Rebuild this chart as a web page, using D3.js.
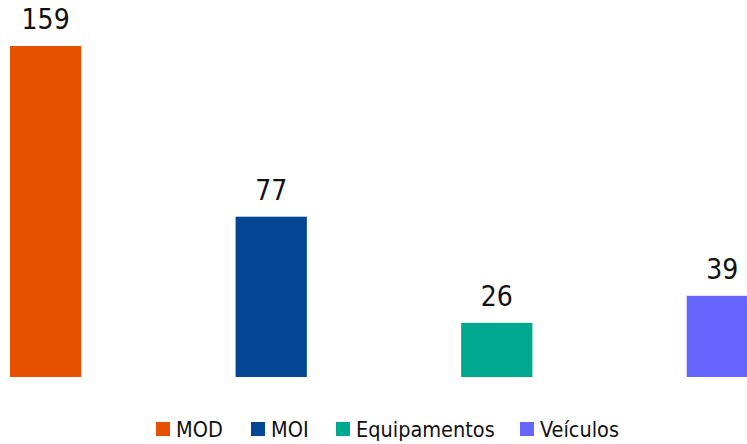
<!DOCTYPE html>
<html>
<head>
<meta charset="utf-8">
<script src="https://cdn.jsdelivr.net/npm/d3@7"></script>
<style>
  body { margin: 0; background: #fff; }
  svg { display: block; font-family: "DejaVu Sans Condensed", "DejaVu Sans", sans-serif; }
</style>
</head>
<body>
<svg id="chart"></svg>
<script>
const categories = ["MOD", "MOI", "Equipamentos", "Veículos"];
const values = [159, 77, 26, 39];
const colors = ["#E65100", "#034694", "#00A88F", "#6666FF"];

const width = 747;
const height = 444;

const svg = d3.select("#chart").attr("width", width).attr("height", height);

// bars: step ~225px, bar width ~71px, last bar runs off the right edge
const x = d3
  .scaleBand()
  .domain(categories)
  .range([10, 758])
  .paddingInner(0.684)
  .paddingOuter(0);

const y = d3.scaleLinear().domain([0, 159]).range([377, 46]);

const data = categories.map((c, i) => ({ cat: c, value: values[i], color: colors[i] }));

svg
  .selectAll(".bar")
  .data(data)
  .enter()
  .append("rect")
  .attr("class", "bar")
  .attr("x", (d) => x(d.cat))
  .attr("y", (d) => y(d.value))
  .attr("width", x.bandwidth())
  .attr("height", (d) => y(0) - y(d.value))
  .attr("fill", (d) => d.color);

svg
  .selectAll(".label")
  .data(data)
  .enter()
  .append("text")
  .attr("class", "label")
  .attr("x", (d) => x(d.cat) + x.bandwidth() / 2)
  .attr("y", (d) => y(d.value) - 17)
  .attr("text-anchor", "middle")
  .attr("font-size", 28)
  .attr("fill", "#111")
  .text((d) => d.value);

// legend
const legendX = [156, 251, 336, 520];
const legend = svg
  .selectAll(".legend")
  .data(data)
  .enter()
  .append("g")
  .attr("class", "legend")
  .attr("transform", (d, i) => `translate(${legendX[i]},422)`);

legend
  .append("rect")
  .attr("width", 14)
  .attr("height", 14)
  .attr("fill", (d) => d.color);

legend
  .append("text")
  .attr("x", 20)
  .attr("y", 14.5)
  .attr("font-size", 21.5)
  .attr("fill", "#111")
  .text((d) => d.cat);
</script>
</body>
</html>
